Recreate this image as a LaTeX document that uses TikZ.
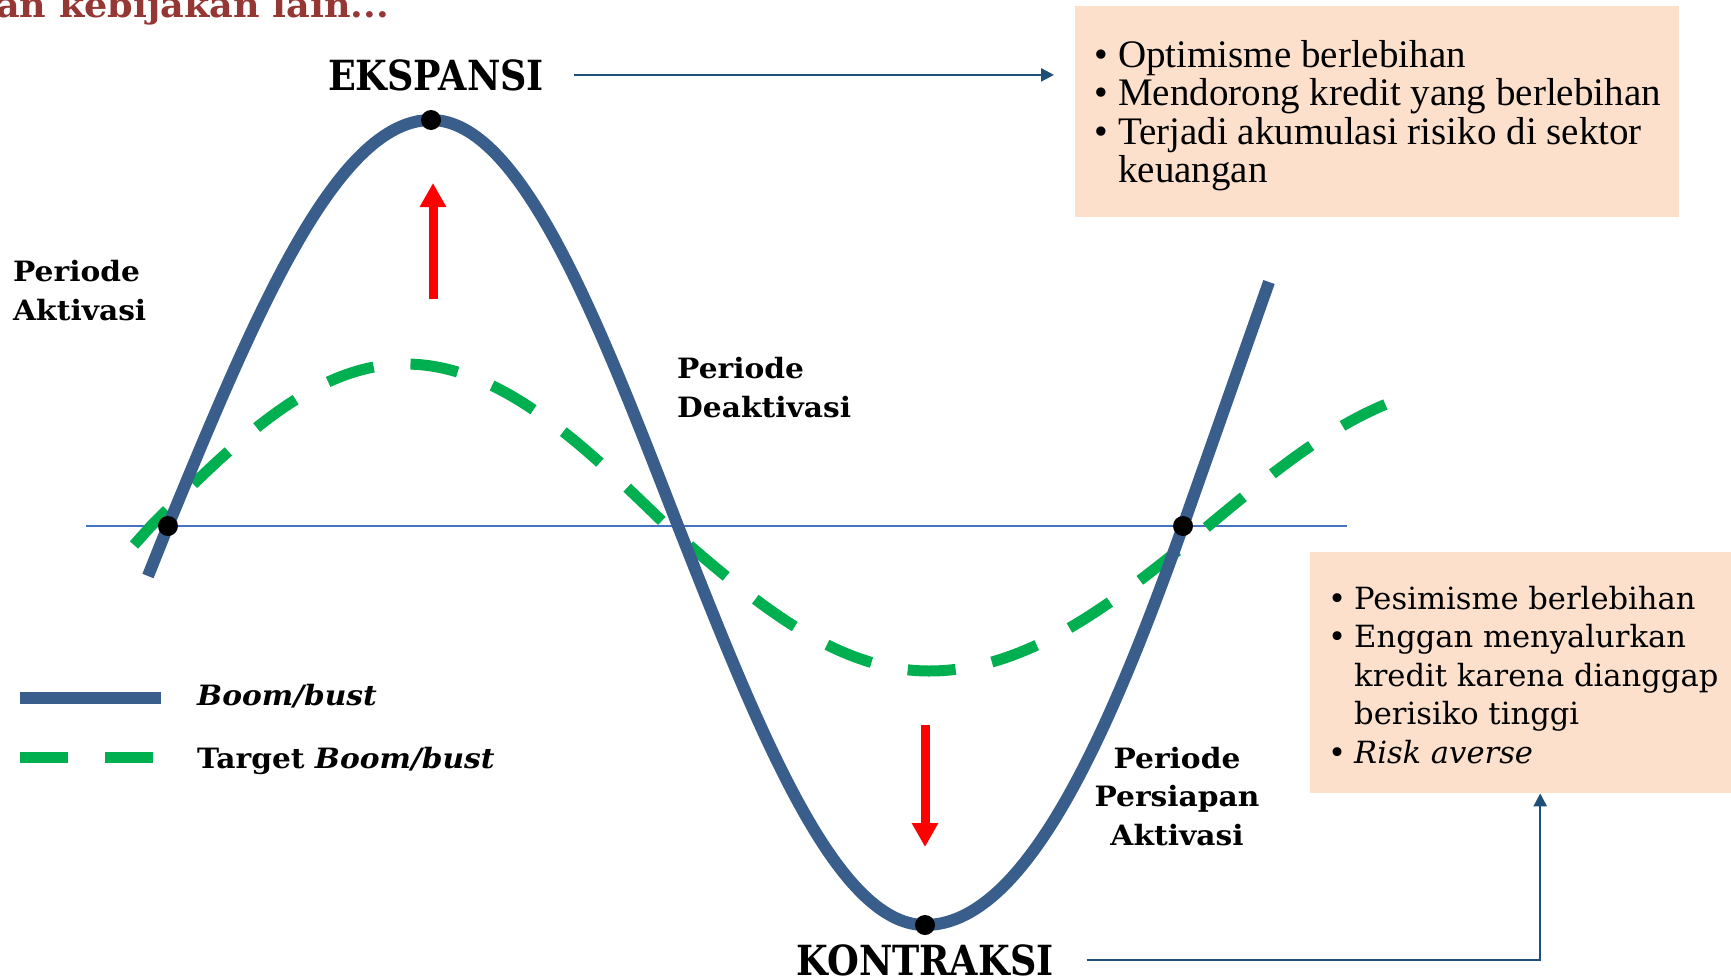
\documentclass[tikz,border=0pt]{standalone}
\usepackage{fontspec}
\setmainfont{DejaVu Serif}
\newfontfamily\listserif{Liberation Serif}
\newfontfamily\condserif{DejaVu Serif}[FakeStretch=0.88]
\newfontfamily\wideserif{DejaVu Serif}[FakeStretch=1.06]
\usetikzlibrary{arrows.meta}

\definecolor{boomblue}{RGB}{58,94,140}
\definecolor{axisblue}{RGB}{68,114,196}
\definecolor{targetgreen}{RGB}{0,176,80}
\definecolor{pointerred}{RGB}{255,0,0}
\definecolor{linknavy}{RGB}{31,78,121}
\definecolor{peach}{RGB}{252,224,204}
\definecolor{titlered}{RGB}{149,55,53}

\tikzset{
  boomline/.style={draw=boomblue, line width=12bp},
  targetline/.style={draw=targetgreen, line width=11bp, dash pattern=on 48bp off 37bp},
  axisline/.style={draw=axisblue, line width=2bp},
  dotmark/.style={circle, fill=black, inner sep=0pt, minimum size=20bp},
  redarrow/.style={draw=pointerred, line width=9bp, -{Triangle[width=25bp,length=24bp]}},
  linkarrow/.style={draw=linknavy, line width=2.5bp, -{Triangle[width=13bp,length=13bp]}},
  infobox/.style={fill=peach, draw=none, inner sep=0pt, anchor=north west},
  phase/.style={inner sep=0pt, font=\wideserif\bfseries\fontsize{28bp}{38.6bp}\selectfont},
  stage/.style={inner sep=0pt, font=\condserif\bfseries\fontsize{41.5bp}{48bp}\selectfont},
  topitem/.style={inner sep=0pt, anchor=base west, font=\listserif\fontsize{39bp}{38.6bp}\selectfont},
  botitem/.style={inner sep=0pt, anchor=base west, font=\fontsize{30.6bp}{38.6bp}\selectfont},
}

\begin{document}
\begin{tikzpicture}[x=1bp, y=-1bp]
\useasboundingbox (0,0) rectangle (1731,978);
\fill[white] (0,0) rectangle (1731,978);

% heading fragment
\node[inner sep=0pt, anchor=base west, text=titlered,
      font=\wideserif\bfseries\fontsize{34.5bp}{40bp}\selectfont] (heading) at (-4,17) {an kebijakan lain...};

% information boxes
\node[infobox, minimum width=604bp, minimum height=211bp] (topbox) at (1075,6) {};
\node[infobox, minimum width=460bp, minimum height=241bp] (botbox) at (1310,552) {};

\node[topitem] (ti1) at (1118,67)  {\llap{•\hskip 10bp}Optimisme berlebihan};
\node[topitem] (ti2) at (1118,105) {\llap{•\hskip 10bp}Mendorong kredit yang berlebihan};
\node[topitem] (ti3) at (1118,144) {\llap{•\hskip 10bp}Terjadi akumulasi risiko di sektor};
\node[topitem] (ti4) at (1118,182) {keuangan};

\node[botitem] (bi1) at (1354,609) {\llap{•\hskip 8bp}Pesimisme berlebihan};
\node[botitem] (bi2) at (1354,647) {\llap{•\hskip 8bp}Enggan menyalurkan};
\node[botitem] (bi3) at (1354,686) {kredit karena dianggap};
\node[botitem] (bi4) at (1354,724) {berisiko tinggi};
\node[botitem] (bi5) at (1354,763) {\llap{•\hskip 8bp}\textit{Risk averse}};

% zero line
\coordinate (axl) at (86,526);
\coordinate (axr) at (1347,526);
\draw[axisline] (axl) -- (axr);

% key points of the cycle
\coordinate (b0) at (148,576);
\coordinate (c1) at (168,526);
\coordinate (peak) at (431,120);
\coordinate (c2) at (678,526);
\coordinate (trough) at (925,925);
\coordinate (c3) at (1183,526);
\coordinate (b9) at (1269,282);

% target cycle
\coordinate (g0) at (134,545);
\coordinate (g1) at (151,526);
\coordinate (gpeak) at (405,364);
\coordinate (g2) at (667,526);
\coordinate (gtrough) at (929,671);
\coordinate (g3) at (1208,526);
\draw[targetline] (g0) -- (g1) sin (gpeak) cos (g2) sin (gtrough) cos (g3)
  -- plot[domain=0:180, samples=30] ({1208+\x},{526-140*sin(\x*90/265)});

% boom/bust cycle
\draw[boomline] (b0) -- (c1) sin (peak) cos (c2) sin (trough)
  .. controls (1025,925) and (1108,737) .. (c3) -- (b9);

\node[dotmark] (dot1) at (c1) {};
\node[dotmark] (dot2) at (peak) {};
\node[dotmark] (dot3) at (trough) {};
\node[dotmark] (dot4) at (c3) {};

% direction arrows
\coordinate (upfrom) at (433,299);
\coordinate (upto) at (433,183);
\coordinate (downfrom) at (925,725);
\coordinate (downto) at (925,847);
\draw[redarrow] (upfrom) -- (upto);
\draw[redarrow] (downfrom) -- (downto);

% phase labels
\node[phase, anchor=base west] (pa1) at (13,281) {Periode};
\node[phase, anchor=base west] (pa2) at (13,320) {Aktivasi};
\node[phase, anchor=base west] (pd1) at (677,378) {Periode};
\node[phase, anchor=base west] (pd2) at (677,417) {Deaktivasi};
\node[phase, anchor=base] (pp1) at (1177,768) {Periode};
\node[phase, anchor=base] (pp2) at (1177,806) {Persiapan};
\node[phase, anchor=base] (pp3) at (1177,845) {Aktivasi};

% stage names and their links to the boxes
\node[stage, anchor=base] (eks) at (436,90) {EKSPANSI};
\node[stage, anchor=base] (kon) at (925,975) {KONTRAKSI};
\draw[linkarrow, shorten <=30bp, shorten >=21bp] (eks.east) -- (eks.east -| topbox.west);
\draw[linkarrow, shorten <=33bp] (kon.east) -| (botbox.south);

% legend
\coordinate (lb0) at (20,698);
\coordinate (lb1) at (161,698);
\coordinate (lg0) at (20,757);
\coordinate (lg1) at (153,757);
\draw[boomline] (lb0) -- (lb1);
\draw[targetline] (lg0) -- (lg1);
\node[phase, anchor=base west] (leg1) at (197,705) {\textit{Boom/bust}};
\node[phase, anchor=base west] (leg2) at (197,768) {Target \textit{Boom/bust}};
\end{tikzpicture}
\end{document}
